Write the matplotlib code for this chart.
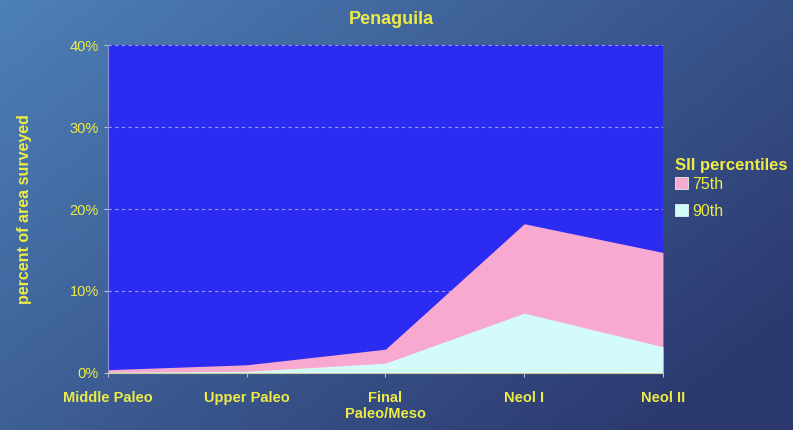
import numpy as np
import matplotlib.pyplot as plt
from matplotlib.patches import Patch

# Значения (доли площади, %)
periods = ['Middle Paleo', 'Upper Paleo', 'Final\nPaleo/Meso', 'Neol I', 'Neol II']
p75 = [0.4, 1.0, 2.9, 18.2, 14.7]
p90 = [0.1, 0.2, 1.2, 7.3, 3.2]
y_ticks = [0, 10, 20, 30, 40]

yellow = '#EDEB45'
plt.rcParams['font.family'] = ['Liberation Sans', 'DejaVu Sans']

fig = plt.figure(figsize=(7.93, 4.30), dpi=100)

# фон - градиент "под воду"
bg = fig.add_axes([0, 0, 1, 1], zorder=0)
gx = np.linspace(0, 1, 200)
gy = np.linspace(0, 1, 120)
X, Y = np.meshgrid(gx, gy)
t = np.clip(0.65 * X + 0.45 * Y, 0, 1)
c1 = np.array([0.30, 0.50, 0.72])
c2 = np.array([0.17, 0.22, 0.43])
img = c1 * (1 - t[..., None]) + c2 * t[..., None]
bg.imshow(img, aspect='auto', extent=[0, 1, 0, 1])
bg.axis('off')

ax = fig.add_axes([0.1362, 0.1326, 0.6998, 0.7627], zorder=1)
ax.set_facecolor('#2B2BF2')
xs = range(len(periods))
ax.fill_between(xs, p75, color='#F8A9D0', lw=0, zorder=2)
ax.fill_between(xs, p90, color='#D4FBFB', lw=0, zorder=3)

ax.set_xlim(0, len(periods) - 1)
ax.set_ylim(0, 40)
ax.set_yticks(y_ticks)
ax.set_yticklabels([f'{v}%' for v in y_ticks], color=yellow, fontsize=10.5)
ax.set_xticks(list(xs))
ax.set_xticklabels(periods, color=yellow, fontsize=10.5, fontweight='bold')
ax.tick_params(axis='both', length=3, color='#bbbbdd')
ax.tick_params(axis='x', pad=10)
ax.grid(axis='y', color='#9a9ae8', linestyle=(0, (3, 3)), lw=0.8, zorder=1)
ax.set_axisbelow(True)
for s in ['top', 'right']:
    ax.spines[s].set_visible(False)
ax.spines['left'].set_color('#9090e0')
ax.spines['bottom'].set_color('#cccc99')
ax.spines['left'].set_zorder(5)
ax.spines['bottom'].set_zorder(5)

ax.set_ylabel('percent of area surveyed', color=yellow, fontsize=11.5,
              fontweight='bold', labelpad=27)
fig.text(0.494, 0.955, 'Penaguila', color=yellow, fontsize=13,
         fontweight='bold', ha='center', va='center')

handles = [Patch(facecolor='#F8A9D0', edgecolor='white', lw=0.5),
           Patch(facecolor='#D4FBFB', edgecolor='white', lw=0.5)]
leg = fig.legend(handles, ['75th', '90th'], title='SII percentiles',
                 loc='center left', bbox_to_anchor=(0.843, 0.562),
                 frameon=False, fontsize=11.5, handlelength=0.8,
                 handleheight=0.8, handletextpad=0.3, labelspacing=0.75,
                 borderaxespad=0)
leg.get_title().set_color(yellow)
leg.get_title().set_fontweight('bold')
leg.get_title().set_fontsize(12)
leg._legend_box.align = 'left'
leg._legend_box.sep = 3
for txt in leg.get_texts():
    txt.set_color(yellow)

fig.savefig('out.png', dpi=100)
